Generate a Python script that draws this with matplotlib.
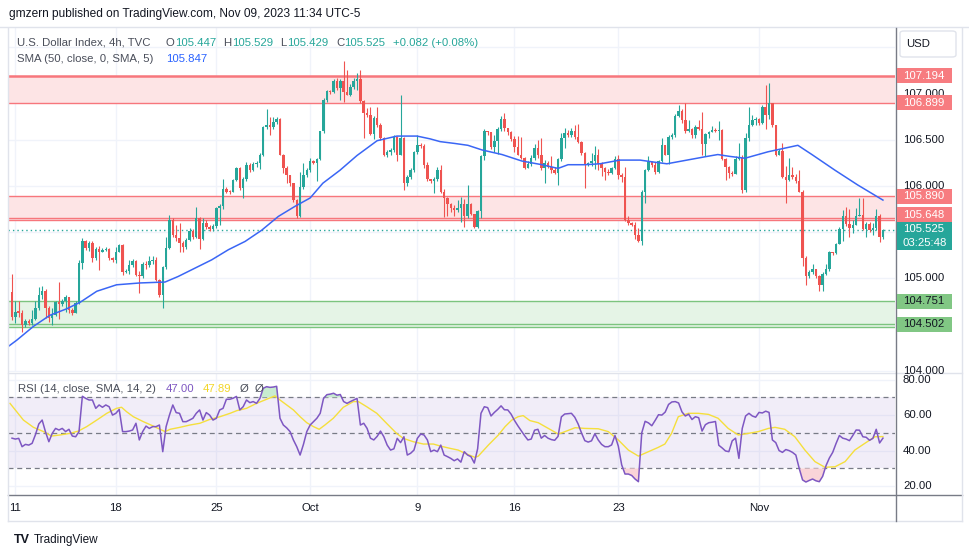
import matplotlib
matplotlib.use("Agg")
import matplotlib.pyplot as plt
from matplotlib.lines import Line2D
from matplotlib.patches import Rectangle, FancyBboxPatch
import matplotlib.transforms as mtransforms
import numpy as np

plt.rcParams['font.family'] = ['Liberation Sans', 'DejaVu Sans']

# ---------------- data ----------------
first_open = 104.85
closes = [
    104.58, 104.64, 104.63, 104.50, 104.54, 104.52, 104.56, 104.68, 104.82, 104.86,
    104.68, 104.57, 104.60, 104.74, 104.72, 104.76, 104.80, 104.66, 104.63, 104.73,
    105.17, 105.40, 105.33, 105.38, 105.22, 105.32, 105.29, 105.31, 105.32, 105.22,
    105.20, 105.28, 105.36, 105.07, 105.08, 105.14, 105.19, 105.04, 105.03, 105.16,
    105.14, 105.19, 105.20, 104.98, 104.82, 105.12, 105.33, 105.63, 105.47, 105.44,
    105.38, 105.34, 105.42, 105.51, 105.45, 105.65, 105.43, 105.60, 105.56, 105.53,
    105.57, 105.76, 105.78, 105.97, 105.94, 105.93, 106.06, 106.19, 105.98, 106.08,
    106.23, 106.17, 106.24, 106.25, 106.34, 106.64, 106.66, 106.64, 106.69, 106.72,
    106.34, 106.19, 106.12, 106.03, 105.85, 105.68, 105.99, 106.12, 106.17, 106.27,
    106.25, 106.29, 106.59, 106.93, 107.03, 107.02, 107.14, 107.06, 107.14, 107.02,
    106.99, 107.07, 107.14, 107.16, 106.92, 106.79, 106.77, 106.56, 106.74, 106.66,
    106.52, 106.33, 106.37, 106.39, 106.53, 106.34, 106.52, 106.03, 106.10, 106.17,
    106.37, 106.44, 106.43, 106.23, 106.07, 106.05, 106.08, 106.17, 105.93, 105.87,
    105.81, 105.76, 105.74, 105.76, 105.81, 105.67, 105.81, 105.70, 105.56, 105.73,
    106.32, 106.60, 106.58, 106.42, 106.49, 106.62, 106.73, 106.63, 106.58, 106.51,
    106.42, 106.34, 106.30, 106.19, 106.24, 106.30, 106.41, 106.33, 106.19, 106.25,
    106.20, 106.17, 106.14, 106.29, 106.52, 106.57, 106.55, 106.59, 106.53, 106.48,
    106.36, 106.23, 106.25, 106.27, 106.33, 106.24, 106.19, 106.15, 106.14, 106.19,
    106.29, 106.12, 106.10, 105.63, 105.60, 105.58, 105.47, 105.40, 105.94, 106.17,
    106.26, 106.23, 106.15, 106.27, 106.44, 106.34, 106.53, 106.55, 106.76, 106.81,
    106.71, 106.60, 106.62, 106.55, 106.64, 106.62, 106.45, 106.56, 106.58, 106.61,
    106.59, 106.61, 106.29, 106.21, 106.14, 106.13, 106.29, 106.30, 105.96, 106.52,
    106.66, 106.71, 106.72, 106.68, 106.86, 106.77, 106.90, 106.66, 106.33, 106.38,
    106.10, 106.06, 106.12, 106.10, 106.05, 105.94, 105.22, 105.02, 105.07, 105.10,
    105.03, 104.93, 105.05, 105.10, 105.29, 105.27, 105.37, 105.53, 105.67, 105.59,
    105.54, 105.58, 105.67, 105.69, 105.53, 105.59, 105.52, 105.54, 105.68, 105.447,
    105.525,
]
highs = [
    105.05, 104.75, 104.75, 104.66, 104.56, 104.56, 104.66, 104.75, 104.91, 104.92,
    104.88, 104.70, 104.68, 104.76, 104.96, 104.78, 104.82, 104.80, 104.68, 104.75,
    105.20, 105.44, 105.41, 105.40, 105.40, 105.34, 105.35, 105.33, 105.34, 105.33,
    105.23, 105.34, 105.37, 105.37, 105.10, 105.20, 105.21, 105.20, 105.08, 105.18,
    105.19, 105.24, 105.24, 105.23, 104.99, 105.13, 105.45, 105.69, 105.65, 105.58,
    105.60, 105.40, 105.44, 105.55, 105.53, 105.77, 105.66, 105.65, 105.63, 105.58,
    105.59, 105.77, 105.80, 106.08, 105.99, 105.96, 106.07, 106.20, 106.21, 106.10,
    106.26, 106.25, 106.26, 106.27, 106.36, 106.65, 106.83, 106.75, 106.75, 106.75,
    106.74, 106.35, 106.22, 106.12, 106.03, 105.86, 106.15, 106.25, 106.19, 106.30,
    106.28, 106.30, 106.60, 106.95, 107.04, 107.04, 107.16, 107.17, 107.16, 107.35,
    107.26, 107.10, 107.17, 107.22, 107.26, 106.93, 106.84, 106.86, 106.76, 106.86,
    106.68, 106.53, 106.39, 106.41, 106.55, 106.54, 106.98, 106.53, 106.12, 106.19,
    106.38, 106.55, 106.46, 106.45, 106.26, 106.08, 106.10, 106.21, 106.23, 105.97,
    105.88, 105.82, 105.79, 105.85, 105.88, 105.86, 106.01, 105.82, 105.70, 105.74,
    106.33, 106.62, 106.60, 106.52, 106.55, 106.64, 106.76, 106.79, 106.63, 106.59,
    106.54, 106.54, 106.53, 106.31, 106.27, 106.33, 106.45, 106.50, 106.52, 106.28,
    106.27, 106.32, 106.20, 106.30, 106.57, 106.63, 106.61, 106.63, 106.66, 106.67,
    106.49, 106.37, 106.26, 106.36, 106.43, 106.40, 106.26, 106.20, 106.18, 106.21,
    106.32, 106.33, 106.14, 106.21, 105.67, 105.61, 105.61, 105.54, 105.96, 106.18,
    106.32, 106.27, 106.26, 106.28, 106.52, 106.44, 106.55, 106.57, 106.78, 106.88,
    106.83, 106.90, 106.71, 106.63, 106.66, 106.71, 106.80, 106.57, 106.60, 106.65,
    106.63, 106.70, 106.62, 106.30, 106.22, 106.16, 106.32, 106.46, 106.33, 106.57,
    106.86, 106.77, 106.75, 106.74, 106.88, 107.09, 107.11, 106.90, 106.50, 106.40,
    106.46, 106.22, 106.30, 106.21, 106.13, 106.17, 105.96, 105.24, 105.09, 105.15,
    105.10, 105.04, 105.07, 105.16, 105.30, 105.29, 105.38, 105.56, 105.74, 105.77,
    105.75, 105.63, 105.76, 105.87, 105.87, 105.61, 105.61, 105.60, 105.75, 105.70,
    105.529,
]
lows = [
    104.55, 104.52, 104.58, 104.42, 104.47, 104.50, 104.50, 104.55, 104.66, 104.78,
    104.57, 104.53, 104.50, 104.59, 104.56, 104.70, 104.64, 104.62, 104.60, 104.62,
    104.72, 105.10, 105.31, 105.30, 105.18, 105.20, 105.09, 105.28, 105.30, 105.20,
    105.18, 105.17, 105.28, 105.04, 105.06, 105.05, 105.12, 105.02, 104.84, 105.00,
    105.10, 105.12, 105.16, 104.97, 104.80, 104.68, 105.10, 105.32, 105.45, 105.40,
    105.29, 105.28, 105.32, 105.40, 105.43, 105.44, 105.32, 105.42, 105.53, 105.51,
    105.51, 105.55, 105.58, 105.75, 105.92, 105.91, 105.93, 106.05, 105.96, 105.87,
    106.05, 106.15, 106.16, 106.20, 106.18, 106.32, 106.62, 106.55, 106.62, 106.67,
    106.33, 106.14, 106.03, 106.00, 105.83, 105.65, 105.66, 105.97, 106.10, 106.15,
    106.24, 106.05, 106.28, 106.57, 106.91, 107.00, 107.01, 107.04, 106.93, 106.91,
    106.98, 106.97, 107.05, 107.04, 106.90, 106.52, 106.75, 106.55, 106.51, 106.64,
    106.50, 106.32, 106.31, 106.34, 106.37, 106.27, 106.33, 105.96, 106.00, 106.08,
    106.15, 106.35, 106.41, 106.19, 106.05, 106.03, 105.92, 106.05, 105.92, 105.66,
    105.67, 105.72, 105.67, 105.72, 105.61, 105.56, 105.65, 105.69, 105.54, 105.55,
    105.65, 106.28, 106.55, 106.40, 106.37, 106.35, 106.60, 106.60, 106.55, 106.49,
    106.37, 106.33, 106.29, 106.18, 106.19, 106.22, 106.28, 106.30, 106.17, 106.03,
    106.19, 106.14, 106.13, 106.01, 106.27, 106.41, 106.53, 106.53, 106.51, 106.46,
    106.34, 105.98, 106.22, 106.22, 106.18, 106.17, 106.11, 106.06, 106.12, 106.13,
    106.18, 106.07, 106.04, 105.62, 105.58, 105.57, 105.43, 105.39, 105.36, 105.82,
    106.16, 106.21, 106.13, 106.14, 106.26, 106.33, 106.24, 106.51, 106.53, 106.75,
    106.68, 106.57, 106.58, 106.52, 106.52, 106.61, 106.34, 106.32, 106.52, 106.58,
    106.58, 106.50, 106.28, 106.06, 106.09, 106.11, 106.13, 106.28, 105.92, 105.94,
    106.49, 106.65, 106.66, 106.66, 106.67, 106.62, 106.73, 106.64, 106.32, 106.33,
    106.09, 105.82, 106.05, 106.08, 106.03, 105.93, 105.13, 104.93, 105.00, 105.05,
    105.00, 104.86, 104.86, 105.04, 105.08, 105.25, 105.26, 105.39, 105.40, 105.57,
    105.45, 105.49, 105.58, 105.67, 105.52, 105.45, 105.50, 105.47, 105.52, 105.39,
    105.429,
]

# SMA(50) line (bar index, value)
sma_bars = [-1.2, 1.4, 6.4, 11.3, 16.3, 20.3, 25.3, 31.2, 38.2, 45.7, 49.6, 54.6, 59.6,
            64.6, 69.6, 74.5, 79.5, 84.5, 89.0, 92.8, 97.9, 103.0, 109.0, 114.9, 120.9,
            124.8, 127.8, 132.2, 136.1, 140.3, 146.3, 152.2, 158.2, 163.0, 166.0, 171.0,
            175.5, 181.5, 187.5, 191.3, 195.5, 201.5, 207.5, 210.7, 214.3, 218.8, 225.7,
            234.6, 238.8, 245.7, 252.5, 260.0]
sma_vals = [104.26, 104.33, 104.48, 104.60, 104.67, 104.74, 104.86, 104.93, 104.95, 104.96,
            105.02, 105.11, 105.20, 105.31, 105.40, 105.52, 105.67, 105.78, 105.87, 106.03,
            106.17, 106.33, 106.49, 106.54, 106.54, 106.51, 106.48, 106.46, 106.44, 106.39,
            106.34, 106.27, 106.23, 106.19, 106.23, 106.23, 106.24, 106.28, 106.28, 106.26,
            106.24, 106.28, 106.32, 106.34, 106.32, 106.30, 106.37, 106.44, 106.34, 106.17,
            106.01, 105.847]

rsi_vals = [
    47.0, 46.5, 46.9, 42.2, 43.5, 43.1, 44.1, 49.0, 55.0, 57.2,
    50.5, 45.0, 49.7, 52.5, 51.6, 52.5, 50.7, 52.0, 48.2, 47.8,
    50.7, 70.6, 69.4, 68.5, 68.5, 63.8, 65.7, 64.4, 65.7, 64.7,
    60.0, 61.0, 63.2, 50.7, 50.7, 51.0, 51.6, 55.4, 46.0, 50.7,
    53.8, 52.5, 53.5, 53.5, 54.4, 39.4, 53.5, 60.0, 65.7, 61.4,
    61.0, 56.3, 56.3, 57.2, 58.2, 61.0, 62.9, 57.2, 61.4, 60.0,
    57.2, 58.2, 62.9, 63.8, 68.9, 68.9, 69.5, 70.5, 62.9, 64.7,
    68.5, 67.0, 67.6, 66.6, 69.4, 75.1, 76.0, 75.6, 75.8, 76.2,
    58.2, 54.4, 52.8, 50.7, 46.0, 42.2, 37.5, 43.5, 50.7, 54.4,
    56.3, 58.2, 61.0, 69.4, 71.5, 71.8, 72.3, 71.2, 71.6, 67.6,
    66.6, 67.6, 68.5, 69.4, 54.4, 55.4, 52.5, 47.0, 46.0, 48.0,
    51.0, 47.8, 43.1, 40.3, 41.0, 46.9, 44.5, 47.8, 37.5, 38.5,
    40.3, 46.9, 49.3, 48.8, 46.0, 39.4, 40.3, 39.4, 43.1, 37.5,
    36.6, 35.6, 34.3, 35.3, 33.5, 39.4, 37.5, 36.6, 33.0, 41.0,
    61.0, 64.7, 64.2, 59.5, 61.5, 63.2, 65.2, 63.0, 62.9, 60.5,
    57.0, 54.0, 51.2, 48.5, 46.0, 46.5, 51.5, 52.0, 47.0, 48.5,
    47.0, 46.2, 45.8, 48.0, 59.0, 60.6, 60.8, 61.0, 58.8, 55.0,
    50.0, 45.6, 44.8, 45.5, 49.5, 46.0, 43.5, 42.2, 42.2, 43.2,
    48.5, 42.5, 32.0, 26.8, 26.8, 26.0, 24.0, 22.5, 50.0, 56.5,
    55.6, 54.0, 57.0, 60.2, 60.0, 61.7, 66.0, 67.4, 67.6, 66.8,
    61.8, 59.5, 60.5, 57.5, 59.1, 58.5, 51.0, 54.6, 55.7, 56.0,
    56.4, 43.0, 41.5, 39.8, 39.4, 45.5, 47.0, 35.6, 52.5, 59.5,
    61.0, 59.5, 58.8, 61.5, 61.2, 62.2, 61.5, 46.0, 44.5, 40.0,
    39.0, 40.6, 40.0, 39.0, 37.5, 30.0, 23.5, 22.3, 23.2, 24.0,
    23.0, 22.5, 25.5, 31.5, 35.8, 39.0, 44.0, 48.5, 47.0, 46.5,
    45.6, 48.5, 51.6, 51.5, 47.8, 47.5, 45.8, 46.9, 52.0, 44.3,
    47.0,
]

rsi_ma_bars = [-0.6, 1.4, 3.4, 6.4, 9.4, 11.8, 14.3, 17.3, 19.8, 22.3, 25.3, 28.3, 31.2,
               32.7, 34.2, 36.2, 39.2, 42.2, 44.2, 45.7, 47.2, 50.1, 53.1, 56.1, 59.1,
               62.1, 65.1, 67.1, 70.0, 73.0, 76.0, 78.5, 80.0, 82.0, 84.0, 86.0, 88.0,
               90.0, 91.7, 93.4, 95.9, 98.9, 101.9, 103.4, 105.9, 108.9, 111.8, 114.8,
               116.8, 119.8, 122.8, 125.8, 127.8, 130.7, 133.2, 135.2, 138.2, 139.2,
               142.2, 145.2, 147.2, 149.2, 151.1, 152.6, 154.6, 157.1, 160.1, 163.1,
               165.1, 168.1, 171.0, 175.0, 178.0, 181.0, 184.0, 187.0, 190.0, 192.9,
               194.9, 196.9, 198.9, 201.9, 204.9, 207.9, 210.8, 213.8, 216.8, 219.8,
               222.8, 225.8, 227.8, 230.7, 233.7, 236.7, 239.7, 242.7, 245.7, 248.7,
               251.6, 254.6, 257.6, 260.0]
rsi_ma_vals = [66.6, 61.9, 57.2, 53.1, 50.7, 48.2, 48.8, 49.7, 51.0, 53.5, 57.2, 61.0, 63.8,
               64.4, 61.9, 59.1, 56.3, 53.8, 52.0, 50.7, 52.0, 53.1, 54.4, 55.4, 57.6,
               59.1, 61.0, 62.5, 63.8, 66.6, 68.9, 70.8, 68.5, 65.7, 62.9, 59.1, 55.7,
               53.5, 52.0, 54.4, 58.2, 64.4, 67.6, 67.6, 64.7, 61.0, 55.4, 49.7,
               46.9, 45.0, 43.7, 43.7, 42.6, 41.3, 40.3, 38.5, 36.2, 36.9,
               43.1, 48.8, 53.5, 57.2, 59.1, 59.7, 56.9, 55.7, 52.5, 49.3,
               50.7, 52.9, 52.5, 52.3, 50.7, 46.0, 40.3, 36.9, 39.4, 41.8,
               43.7, 49.7, 59.1, 61.0, 61.0, 60.4, 58.2, 52.5, 48.8, 49.7,
               50.7, 52.5, 53.1, 52.0, 47.8, 40.3, 33.8, 30.6, 30.9, 33.8,
               40.3, 44.1, 47.8, 47.89]

tick_bars = [1, 31, 61, 89, 121, 150, 181, 223]
tick_labels = ["11", "18", "25", "Oct", "9", "16", "23", "Nov"]
price_grid = [104.0, 104.5, 105.0, 105.5, 106.0, 106.5, 107.0, 107.5]
price_labels = [104.0, 105.0, 106.0, 106.5, 107.0]
rsi_grid = [20, 40, 60, 80]
upper_zone = (106.899, 107.194)
middle_zone = (105.648, 105.890)
middle_zone_extra = 105.628
support_zone = (104.502, 104.751)
support_zone_extra = 104.476
last_price = 105.525
countdown = "03:25:48"

# ---------------- layout helpers ----------------
W, H = 970, 557
fig = plt.figure(figsize=(W / 100, H / 100), dpi=100)
fig.patch.set_facecolor('white')


def fx(px):
    return px / W


def fy(py):
    return 1 - py / H


LEFT, RIGHT = 8, 895
ax = fig.add_axes([fx(LEFT), fy(372), fx(RIGHT) - fx(LEFT), fy(28) - fy(372)])
axr = fig.add_axes([fx(LEFT), fy(495), fx(RIGHT) - fx(LEFT), fy(373) - fy(495)])

XMIN, XMAX = -1.2, 263.6
for a in (ax, axr):
    a.set_xlim(XMIN, XMAX)
    a.set_xticks([])
    a.set_yticks([])
    for s in a.spines.values():
        s.set_visible(False)
    a.set_facecolor('none')

ax.set_ylim(103.986, 107.710)
axr.set_ylim(15.0, 83.7)

GRID = '#f0f3fa'
RED = '#ef5350'
TEAL = '#26a69a'
ZRED = '#f7767c'
ZGREEN = '#7cc47f'
TXT = '#131722'

# grids
for b in tick_bars:
    ax.axvline(b, color=GRID, lw=1, zorder=0)
    axr.axvline(b, color=GRID, lw=1, zorder=0)
for p in price_grid:
    ax.axhline(p, color=GRID, lw=1, zorder=0)
for r in rsi_grid:
    axr.axhline(r, color=GRID, lw=1, zorder=0)

# zones
ax.axhspan(upper_zone[0], upper_zone[1], color='#fde4e5', lw=0, zorder=0.5)
ax.axhline(upper_zone[1], color=ZRED, lw=1.8, zorder=1)
ax.axhline(upper_zone[0], color=ZRED, lw=1.0, zorder=1)
ax.axhspan(middle_zone_extra, middle_zone[1], color='#fde4e5', lw=0, zorder=0.5)
ax.axhline(middle_zone[1], color=ZRED, lw=1.0, zorder=1)
ax.axhline(middle_zone[0], color=ZRED, lw=1.0, zorder=1)
ax.axhline(middle_zone_extra, color=ZRED, lw=1.0, zorder=1)
ax.axhspan(support_zone_extra, support_zone[1], color='#e5f4e6', lw=0, zorder=0.5)
ax.axhline(support_zone[1], color=ZGREEN, lw=1.0, zorder=1)
ax.axhline(support_zone[0], color=ZGREEN, lw=1.0, zorder=1)
ax.axhline(support_zone_extra, color=ZGREEN, lw=1.0, zorder=1)

# candles
n = min(len(closes), len(highs), len(lows))
idx = np.arange(n)
c = np.array(closes[:n])
o = np.r_[first_open, c[:-1]]
h = np.maximum(np.array(highs[:n]), np.maximum(o, c))
l = np.minimum(np.array(lows[:n]), np.minimum(o, c))
up = c >= o
cols = np.where(up, TEAL, RED)
ax.vlines(idx, l, h, colors=cols, lw=0.8, zorder=3)
body_lo = np.minimum(o, c)
body_h = np.maximum(np.abs(c - o), 0.011)
ax.bar(idx, body_h, bottom=body_lo, width=0.74, color=cols, lw=0, zorder=4)

# SMA
ax.plot(sma_bars, sma_vals, color='#3a66f5', lw=1.1, zorder=5)

# last price dotted line
ax.axhline(last_price, color=TEAL, lw=1.0, ls=(0, (1, 2.2)), zorder=2)

# RSI pane
axr.axhspan(30, 70, color='#7e57c2', alpha=0.1, lw=0, zorder=0.5)
for lvl in (70, 50, 30):
    axr.axhline(lvl, color='#787b86', lw=0.9, ls=(0, (4, 3)), zorder=1)
ri = np.arange(len(rsi_vals))
rv = np.array(rsi_vals)
axr.fill_between(ri, rv, 70, where=rv >= 70, interpolate=True, color='#c8ecd0', lw=0, zorder=1.5)
axr.fill_between(ri, rv, 30, where=rv <= 30, interpolate=True, color='#fad4d8', lw=0, zorder=1.5)
axr.plot(rsi_ma_bars, rsi_ma_vals, color='#f5df3c', lw=1.0, zorder=3)
axr.plot(ri, rv, color='#7e57c2', lw=1.1, zorder=4)

# ---------------- frame lines ----------------
def hline(y, x0, x1, color, lw=1.0):
    fig.add_artist(Line2D([fx(x0), fx(x1)], [fy(y), fy(y)], color=color, lw=lw))


def vline(x, y0, y1, color, lw=1.0):
    fig.add_artist(Line2D([fx(x), fx(x)], [fy(y0), fy(y1)], color=color, lw=lw))


hline(27, 0, 970, '#e0e3eb')
hline(372.5, LEFT, 962, '#e0e3eb')
hline(494.5, LEFT, 962, '#787b86', 1.0)
hline(520.5, LEFT, 962, '#e0e3eb')
vline(RIGHT + 0.5, 28, 521, '#787b86', 1.0)
vline(LEFT, 28, 521, '#e0e3eb')
vline(962, 28, 521, '#e0e3eb')

# ---------------- texts ----------------
FS = 8.2
fig.text(fx(9), fy(14), "gmzern published on TradingView.com, Nov 09, 2023 11:34 UTC-5",
         fontsize=8.6, color=TXT, va='center', ha='left')

leg1 = [(17, "U.S. Dollar Index, 4h, TVC", '#4a4e5a'), (166, "O", '#4a4e5a'),
        (175.5, "105.447", TEAL), (223, "H", '#4a4e5a'), (232, "105.529", TEAL),
        (280, "L", '#4a4e5a'), (287.5, "105.429", TEAL), (336, "C", '#4a4e5a'),
        (344.5, "105.525", TEAL), (393, "+0.082 (+0.08%)", TEAL)]
for xp, s, col in leg1:
    fig.text(fx(xp), fy(42.5), s, fontsize=FS, color=col, va='center', ha='left')
fig.text(fx(17), fy(59), "SMA (50, close, 0, SMA, 5)", fontsize=FS, color='#4a4e5a', va='center')
fig.text(fx(166), fy(59), "105.847", fontsize=FS, color='#2962ff', va='center')

fig.text(fx(18), fy(388.5), "RSI (14, close, SMA, 14, 2)", fontsize=FS, color='#4a4e5a', va='center')
fig.text(fx(166), fy(388.5), "47.00", fontsize=FS, color='#7e57c2', va='center')
fig.text(fx(203), fy(388.5), "47.89", fontsize=FS, color='#f2d629', va='center')
fig.text(fx(240), fy(388.5), "Ø", fontsize=FS, color='#4a4e5a', va='center')
fig.text(fx(255), fy(388.5), "Ø", fontsize=FS, color='#4a4e5a', va='center')

# time axis labels
tx = mtransforms.blended_transform_factory(ax.transData, fig.transFigure)
for b, s in zip(tick_bars, tick_labels):
    fig.text(b, fy(508), s, transform=tx, fontsize=FS, color=TXT, ha='center', va='center')

# right price axis
tp = mtransforms.blended_transform_factory(fig.transFigure, ax.transData)
trs = mtransforms.blended_transform_factory(fig.transFigure, axr.transData)
for p in price_labels:
    fig.text(fx(903), p, f"{p:.3f}", transform=tp, fontsize=FS, color=TXT, va='center', ha='left',
             zorder=2)
for r in rsi_grid:
    fig.text(fx(903), r, f"{r:.2f}", transform=trs, fontsize=FS, color=TXT, va='center', ha='left')


def price_box(y_top, y_bot, lines, bg, fg):
    fig.add_artist(Rectangle((fx(897), fy(y_bot)), fx(952) - fx(897), fy(y_top) - fy(y_bot),
                             facecolor=bg, edgecolor='none', zorder=5))
    step = (y_bot - y_top) / len(lines)
    for k, s in enumerate(lines):
        t = fig.text(fx(903), fy(y_top + step * (k + 0.5)), s, fontsize=FS, color=fg,
                     va='center', ha='left')
        t.set_zorder(6)


def y_of(price):
    return fig.transFigure.inverted().transform(ax.transData.transform((0, price)))[1]


def py_of(price):
    return (1 - y_of(price)) * H


for val, col, fg in [(upper_zone[1], '#f77c80', 'white'), (upper_zone[0], '#f77c80', 'white'),
                     (middle_zone[1], '#f77c80', 'white'),
                     (support_zone[1], '#81c784', TXT), (support_zone[0], '#81c784', TXT)]:
    yc = py_of(val)
    price_box(yc - 7.5, yc + 7.5, [f"{val:.3f}"], col, fg)
# stacked boxes near the last price
yc_mid = py_of(middle_zone[0]) - 3.5
price_box(yc_mid - 7.5, yc_mid + 7.5, [f"{middle_zone[0]:.3f}"], '#f77c80', 'white')
price_box(yc_mid + 7.5, yc_mid + 35, [f"{last_price:.3f}", countdown], TEAL, 'white')

# USD box
fig.add_artist(FancyBboxPatch((fx(900), fy(57)), fx(956) - fx(900), fy(31) - fy(57),
                              boxstyle="round,pad=0,rounding_size=0.004",
                              facecolor='white', edgecolor='#e0e3eb', lw=1))
fig.text(fx(906), fy(44), "USD", fontsize=FS, color=TXT, va='center', ha='left')

# TradingView logo
fig.text(fx(14), fy(540), "TV", fontsize=9, fontweight='heavy', color=TXT, va='center', ha='left')
fig.text(fx(34), fy(540), "TradingView", fontsize=8.5, color=TXT, va='center', ha='left')

fig.savefig("out.png", dpi=100, facecolor='white')
